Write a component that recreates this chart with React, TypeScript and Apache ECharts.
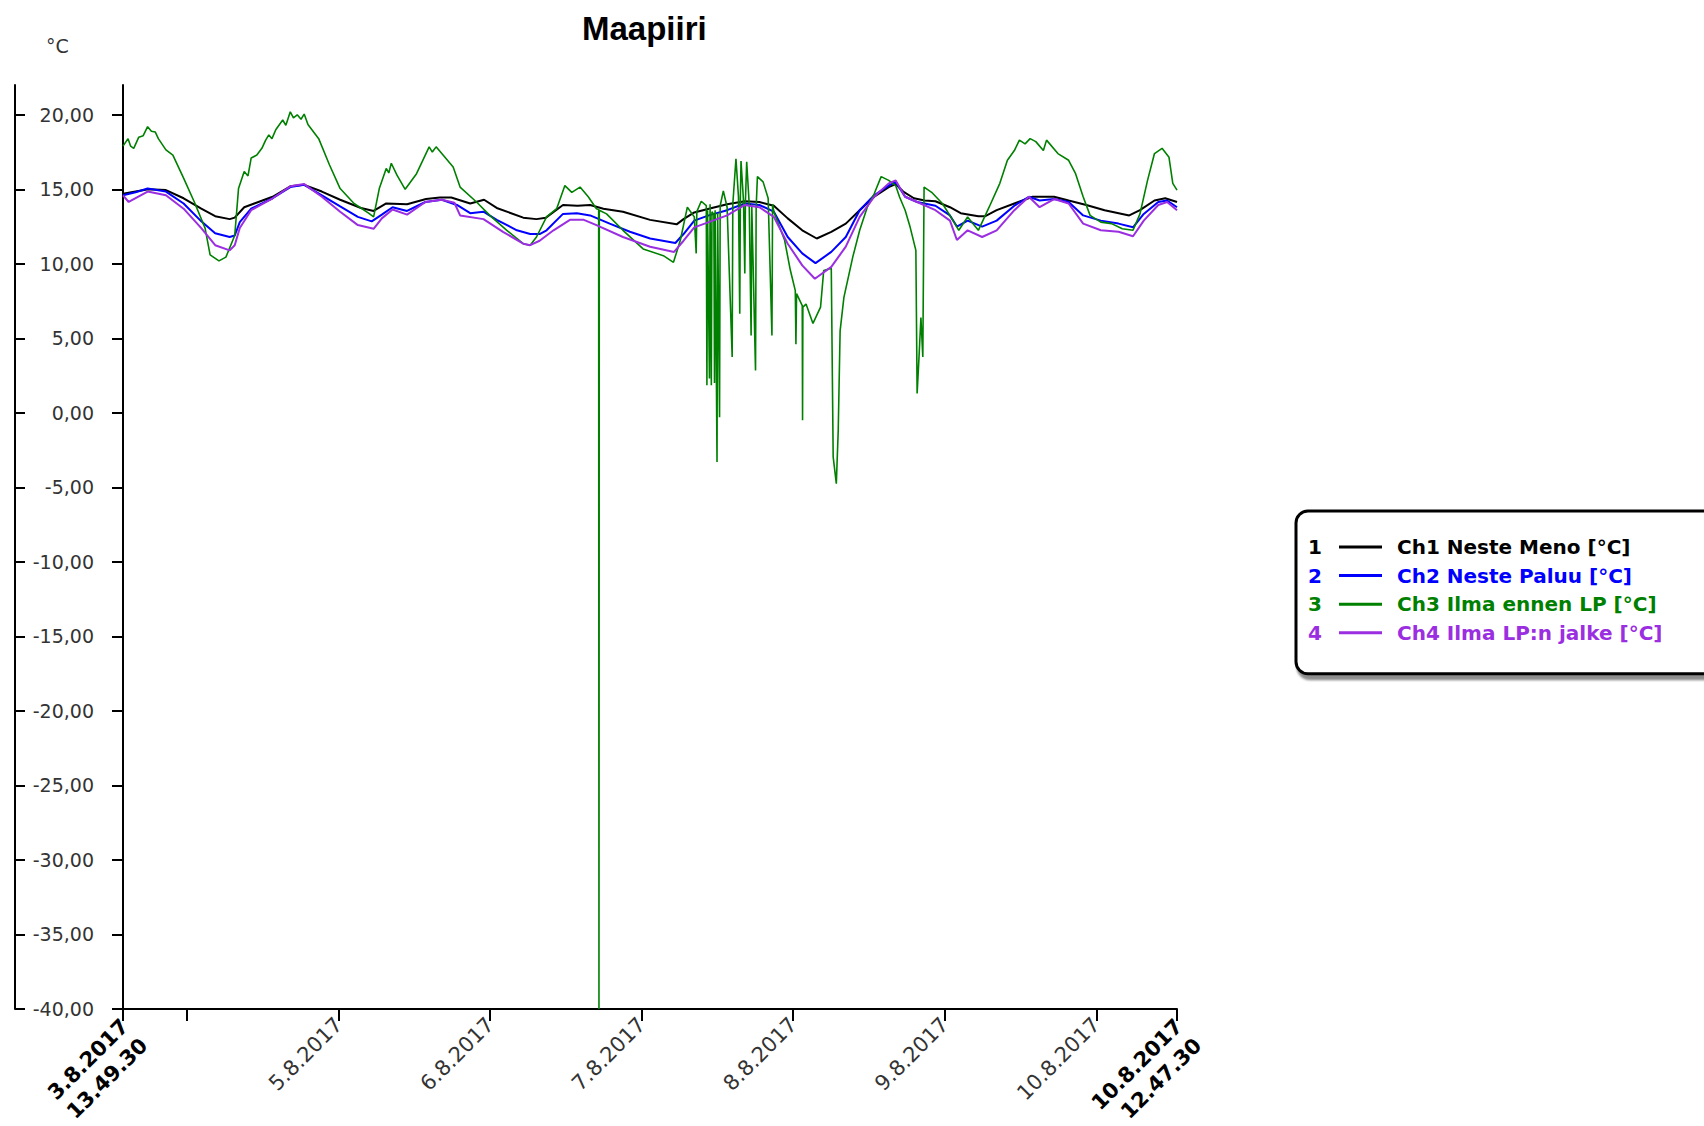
import React, { useEffect, useRef } from 'react';
import * as echarts from 'echarts';

// ---- time frame ----
const START = new Date(2017, 7, 3, 13, 49, 30).getTime();
const END = new Date(2017, 7, 10, 12, 47, 30).getTime();
const HOUR = 3600000;
const hoursAt = (t: number) => (t - START) / HOUR;
const TOTAL_H = hoursAt(END);

const tickDays = [4, 5, 6, 7, 8, 9, 10];
const labelDays = [5, 6, 7, 8, 9, 10];
const yTicks = [-40, -35, -30, -25, -20, -15, -10, -5, 0, 5, 10, 15, 20];

const titleText = 'Maapiiri';
const unitText = '°C';
const seriesNames = [
  'Ch1 Neste Meno [°C]',
  'Ch2 Neste Paluu [°C]',
  'Ch3 Ilma ennen LP [°C]',
  'Ch4 Ilma LP:n jalke [°C]',
];
const legendNumbers = ['1', '2', '3', '4'];
const seriesColors = ['#000000', '#0000ff', '#008000', '#9a2ee0'];

// ---- data: [hours since 3.8.2017 13.49.30, °C] ----
const ch1: [number, number][] = [
  [0, 14.7], [2, 14.85], [4, 15.0], [6.8, 14.95], [9.6, 14.4], [12.4, 13.7], [14.6, 13.2], [16.9, 13.0],
  [17.7, 13.1], [19.2, 13.8], [20.8, 14.05], [23.7, 14.5], [26.5, 15.2], [28.7, 15.3], [31.5, 14.85],
  [34.4, 14.3], [37.7, 13.75], [39.7, 13.55], [41.7, 14.05], [45, 14.0], [48, 14.35], [50.2, 14.45],
  [52, 14.45], [55, 14.05], [57.2, 14.3], [59.2, 13.75], [63.4, 13.1], [65.5, 13.0], [67, 13.1],
  [69.7, 13.95], [72, 13.9], [74, 13.95], [76.1, 13.7], [79.2, 13.5], [83.5, 12.95], [87.7, 12.65],
  [88.8, 13.0], [90.5, 13.45], [92.8, 13.7], [95.7, 14.0], [98.5, 14.2], [100.8, 14.15], [103.1, 13.9],
  [105.3, 13.05], [107.6, 12.25], [109.9, 11.7], [112.2, 12.15], [114.5, 12.7], [116.7, 13.6], [119, 14.5],
  [121.3, 15.15], [122.4, 15.35], [123.6, 14.85], [125.3, 14.4], [127, 14.25], [128.7, 14.2], [131, 13.8],
  [132.7, 13.4], [135.5, 13.2], [136.6, 13.2], [138.4, 13.6], [141.2, 14.05], [144.1, 14.5], [147.5, 14.5],
  [149.8, 14.25], [152.6, 13.95], [155.5, 13.6], [159.4, 13.25], [161.1, 13.6], [163.4, 14.25],
  [165.1, 14.4], [166.97, 14.15],
];

const ch2: [number, number][] = [
  [0, 14.6], [2, 14.8], [3.9, 15.05], [6.8, 14.85], [9.6, 14.05], [12.4, 12.85], [14.6, 12.05], [16.9, 11.8],
  [17.7, 11.9], [18.5, 12.8], [20.3, 13.7], [23.7, 14.4], [26.5, 15.15], [28.7, 15.3], [31.5, 14.6],
  [34.4, 13.85], [37.2, 13.15], [39.4, 12.85], [41, 13.3], [42.7, 13.8], [45, 13.55], [47.9, 14.15],
  [50.5, 14.3], [52.9, 13.95], [55, 13.4], [57.1, 13.5], [59.2, 12.95], [62.4, 12.25], [64.5, 12.0],
  [66, 12.0], [67.1, 12.25], [69.7, 13.35], [71.9, 13.4], [74, 13.25], [77.1, 12.7], [80.3, 12.15],
  [83.5, 11.7], [87.5, 11.4], [88.8, 12.0], [90.5, 12.9], [92.8, 13.25], [95.7, 13.6], [98.5, 14.05],
  [100.8, 13.95], [103.1, 13.5], [105.3, 11.8], [107.6, 10.7], [109.7, 10.05], [112.2, 10.8], [114.5, 11.8],
  [116.7, 13.6], [119, 14.6], [121.3, 15.25], [122.4, 15.5], [123.9, 14.5], [125.8, 14.15], [128.7, 13.9],
  [131, 13.25], [132.1, 12.5], [133.8, 12.9], [136.1, 12.5], [138.4, 12.9], [141.2, 13.9], [143.5, 14.5],
  [145.2, 14.25], [147.5, 14.35], [149.8, 14.15], [152.1, 13.25], [154.9, 12.9], [157.7, 12.7], [160, 12.45],
  [161.7, 13.35], [164, 14.15], [165.4, 14.25], [166.97, 13.8],
];

const ch3: [number, number][] = [
  [0, 17.9], [0.8, 18.4], [1.2, 17.9], [1.7, 17.75], [2.5, 18.5], [3.2, 18.6], [3.9, 19.2], [4.5, 18.9],
  [5.1, 18.85], [5.6, 18.4], [6.8, 17.65], [7.9, 17.3], [9.6, 15.75], [11.3, 14.15], [13.0, 12.4],
  [13.8, 10.6], [15.2, 10.2], [16.3, 10.45], [17.7, 11.9], [18.3, 15.05], [19.2, 16.2], [19.8, 15.9],
  [20.3, 17.1], [21.2, 17.3], [22.0, 17.75], [22.6, 18.3], [23.1, 18.65], [23.6, 18.4], [24.2, 19.0],
  [25.3, 19.65], [25.8, 19.3], [26.5, 20.2], [27.0, 19.8], [27.6, 20.0], [28.2, 19.7], [28.7, 20.05],
  [29.3, 19.35], [31.0, 18.4], [32.7, 16.65], [34.4, 15.05], [36.6, 14.05], [38.9, 13.4], [39.7, 13.15],
  [40.6, 15.05], [41.7, 16.4], [42.1, 16.1], [42.5, 16.75], [43.4, 15.95], [44.7, 15.0], [46.5, 16.05],
  [48.5, 17.85], [49.0, 17.5], [49.6, 17.85], [50.7, 17.3], [52.3, 16.5], [53.4, 15.15], [56, 14.15],
  [58.1, 13.25], [60.8, 12.25], [63.4, 11.35], [64.5, 11.25], [65.5, 11.8], [67.1, 13.15], [68.7, 13.7],
  [70.0, 15.25], [71.1, 14.8], [72.4, 15.15], [73.7, 14.5], [75.0, 13.7], [75.35, 13.65], [75.4, -40],
  [75.45, 13.6], [76.6, 13.35], [79.2, 12.25], [82.4, 11.0], [85.6, 10.55], [87.2, 10.1], [88.3, 11.6],
  [89.4, 13.8], [90.5, 13.15], [90.8, 10.7], [90.9, 13.5], [91.6, 14.2], [92.4, 13.9], [92.5, 1.85],
  [92.6, 13.6], [92.9, 2.3], [93.0, 14.0], [93.2, 1.85], [93.3, 13.5], [93.6, 13.3], [93.7, 2.0],
  [93.8, 13.6], [94.1, -3.3], [94.2, 13.4], [94.5, -0.3], [94.6, 13.9], [95.1, 14.9], [95.7, 13.8],
  [96.5, 3.75], [96.6, 14.0], [97.1, 17.05], [97.5, 14.5], [97.7, 6.65], [97.8, 14.4], [97.9, 16.9],
  [98.3, 14.2], [98.5, 9.35], [98.6, 14.2], [98.8, 16.85], [99.2, 14.0], [99.5, 5.2], [99.6, 14.0],
  [100.2, 2.85], [100.3, 13.8], [100.5, 15.85], [101.4, 15.5], [102.2, 14.4], [102.8, 5.2], [102.9, 14.0],
  [103.1, 13.5], [104.8, 11.6], [105.7, 9.6], [106.5, 8.2], [106.6, 4.6], [106.7, 8.0], [107.6, 7.2],
  [107.65, -0.5], [107.7, 7.1], [108.2, 7.3], [109.3, 6.0], [110.5, 7.1], [111.0, 9.55], [112.2, 9.7],
  [112.5, -2.95], [113.0, -4.75], [113.3, -1.2], [113.6, 5.5], [114.2, 7.75], [115.6, 10.45],
  [116.7, 12.25], [117.9, 13.8], [119.0, 14.7], [120.1, 15.85], [121.3, 15.6], [122.4, 15.25],
  [123.0, 14.5], [123.9, 13.6], [124.7, 12.45], [125.6, 10.9], [125.8, 1.3], [126.1, 3.75], [126.4, 6.4],
  [126.7, 3.75], [126.9, 15.15], [128.1, 14.8], [129.8, 14.05], [131.5, 12.9], [132.4, 12.25],
  [133.8, 13.15], [135.5, 12.25], [137.2, 13.8], [138.9, 15.4], [140.1, 16.95], [141.2, 17.6],
  [142.0, 18.3], [142.9, 18.05], [143.7, 18.4], [144.6, 18.2], [145.8, 17.6], [146.3, 18.3], [148.1, 17.4],
  [149.8, 16.95], [150.9, 16.05], [152.1, 14.5], [153.2, 13.25], [154.9, 12.8], [156.6, 12.7],
  [158.3, 12.35], [160.0, 12.25], [161.1, 13.35], [162.3, 15.6], [163.4, 17.4], [164.6, 17.75],
  [165.7, 17.15], [166.3, 15.4], [166.97, 14.95],
];

const ch4: [number, number][] = [
  [0, 14.6], [0.9, 14.15], [3.9, 14.85], [6.8, 14.6], [9.6, 13.7], [12.4, 12.4], [14.6, 11.25], [16.9, 10.9],
  [17.7, 11.25], [18.5, 12.4], [20.3, 13.6], [23.7, 14.4], [26.5, 15.2], [28.7, 15.35], [31.5, 14.5],
  [34.4, 13.5], [37.2, 12.6], [39.7, 12.35], [41, 13.05], [42.7, 13.65], [45, 13.3], [47.9, 14.15],
  [50.5, 14.3], [52.5, 14.1], [53.4, 13.25], [57.1, 13.0], [60.2, 12.15], [63.4, 11.35], [64.5, 11.25],
  [66, 11.55], [68.2, 12.25], [70.8, 12.95], [73, 12.95], [75, 12.6], [79.2, 11.8], [83.5, 11.15],
  [87.3, 10.8], [88.8, 11.55], [90.5, 12.45], [92.8, 12.8], [95.7, 13.25], [98.5, 13.95], [100.8, 13.8],
  [103.1, 13.15], [105.3, 11.35], [107.6, 9.9], [109.6, 9.0], [112.2, 9.8], [114.5, 11.15], [116.7, 13.15],
  [119, 14.5], [121.3, 15.4], [122.4, 15.6], [123.9, 14.5], [125.8, 14.15], [128.7, 13.6], [131, 12.9],
  [132.1, 11.6], [133.8, 12.25], [136.1, 11.8], [138.4, 12.25], [141.2, 13.6], [143.5, 14.5], [145.2, 13.8],
  [147.5, 14.35], [149.8, 14.05], [152.1, 12.7], [154.9, 12.25], [157.7, 12.15], [160, 11.85],
  [161.7, 12.9], [164, 13.95], [165.4, 14.15], [166.97, 13.6],
];

const seriesData = [ch1, ch2, ch3, ch4];
const seriesWidths = [2, 2, 1.6, 2];

// ---- helpers ----
const pad2 = (n: number) => String(n).padStart(2, '0');
const toTime = (h: number) => Math.round((START + h * HOUR) / 1000) * 1000;
const fmtDate = (t: number) => {
  const d = new Date(t);
  return `${d.getDate()}.${d.getMonth() + 1}.${d.getFullYear()}`;
};
const fmtTime = (t: number) => {
  const d = new Date(t);
  return `${pad2(d.getHours())}.${pad2(d.getMinutes())}.${pad2(d.getSeconds())}`;
};

const xTickHours = [0, ...tickDays.map((d) => hoursAt(new Date(2017, 7, d).getTime())), TOTAL_H];
const xLabelHours = [0, ...labelDays.map((d) => hoursAt(new Date(2017, 7, d).getTime())), TOTAL_H];

const LABEL_FONT = '"DejaVu Sans", Verdana, sans-serif';
const LEGEND_ROW = 28.6;

export default function App() {
  const ref = useRef<HTMLDivElement>(null);

  useEffect(() => {
    if (!ref.current) return;
    const chart = echarts.init(ref.current, undefined, { renderer: 'svg' });

    const option: any = {
      animation: false,
      backgroundColor: '#ffffff',
      title: {
        text: titleText,
        left: 582,
        top: 12,
        padding: 0,
        textStyle: {
          fontFamily: '"Liberation Sans", Arial, sans-serif',
          fontWeight: 'bold',
          fontSize: 33,
          color: '#000',
        },
      },
      grid: { left: 123, right: 527, top: 85, bottom: 117, containLabel: false, outerBoundsMode: 'none' },
      xAxis: {
        type: 'value',
        min: 0,
        max: TOTAL_H,
        splitLine: { show: false },
        axisLine: { show: true, onZero: false, lineStyle: { color: '#000', width: 2 } },
        axisTick: { show: true, length: 12, customValues: xTickHours, lineStyle: { color: '#000', width: 2 } },
        axisLabel: {
          customValues: xLabelHours,
          rotate: 45,
          margin: 12,
          color: '#333',
          fontSize: 21,
          fontFamily: LABEL_FONT,
          formatter: (val: number) => {
            const t = toTime(val);
            if (Math.abs(val) < 0.01 || Math.abs(val - TOTAL_H) < 0.01) {
              return `{sp| }\n{b|${fmtDate(t)}}\n{b|${fmtTime(t)}}`;
            }
            return fmtDate(t);
          },
          rich: {
            sp: { fontSize: 1, lineHeight: 32 },
            b: { fontWeight: 'bold', color: '#000', fontSize: 21, fontFamily: LABEL_FONT, lineHeight: 27 },
          },
        },
      },
      yAxis: [
        {
          type: 'value',
          min: -40,
          max: 22,
          position: 'left',
          splitLine: { show: false },
          axisLine: { show: true, onZero: false, lineStyle: { color: '#000', width: 2 } },
          axisTick: { show: true, length: 11, customValues: yTicks, lineStyle: { color: '#000', width: 2 } },
          axisLabel: {
            customValues: yTicks,
            margin: 29,
            color: '#333',
            fontSize: 19,
            fontFamily: LABEL_FONT,
            formatter: (v: number) => v.toFixed(2).replace('.', ','),
          },
        },
        {
          type: 'value',
          min: -40,
          max: 22,
          position: 'left',
          offset: 108,
          splitLine: { show: false },
          axisLine: { show: true, onZero: false, lineStyle: { color: '#000', width: 2 } },
          axisTick: { show: true, inside: true, length: 10, customValues: yTicks, lineStyle: { color: '#000', width: 2 } },
          axisLabel: { show: false },
        },
      ],
      legend: {
        orient: 'vertical',
        left: 1296,
        top: 511,
        padding: [26, 80, 31, 43],
        itemGap: LEGEND_ROW - 20,
        itemWidth: 43,
        itemHeight: 3,
        icon: 'rect',
        backgroundColor: '#ffffff',
        borderColor: '#000',
        borderWidth: 3,
        borderRadius: 12,
        shadowColor: 'rgba(0,0,0,0.45)',
        shadowOffsetX: 2,
        shadowOffsetY: 5,
        shadowBlur: 2,
        selectedMode: false,
        textStyle: {
          fontFamily: LABEL_FONT,
          fontWeight: 'bold',
          fontSize: 20,
          lineHeight: 20,
          padding: [0, 0, 0, 10],
        },
        data: seriesNames.map((n, i) => ({ name: n, textStyle: { color: seriesColors[i] } })),
      },
      graphic: [
        {
          type: 'text',
          x: 46,
          y: 36,
          z: 10,
          style: { text: unitText, fill: '#333', font: `19px ${LABEL_FONT}` },
        },
        ...legendNumbers.map((n, i) => ({
          type: 'text',
          x: 1315,
          y: 547 + i * LEGEND_ROW,
          z: 100,
          style: {
            text: n,
            fill: seriesColors[i],
            font: `bold 20px ${LABEL_FONT}`,
            align: 'center',
            verticalAlign: 'middle',
          },
        })),
      ],
      series: seriesNames.map((name, i) => ({
        name,
        type: 'line',
        data: seriesData[i],
        showSymbol: false,
        symbol: 'none',
        silent: true,
        color: seriesColors[i],
        lineStyle: { color: seriesColors[i], width: seriesWidths[i] },
        yAxisIndex: 0,
        z: 2 + i,
      })),
    };

    chart.setOption(option);
    return () => chart.dispose();
  }, []);

  return (
    <div
      ref={ref}
      style={{ position: 'fixed', left: 0, top: 0, width: 1704, height: 1126, background: '#fff' }}
    />
  );
}
